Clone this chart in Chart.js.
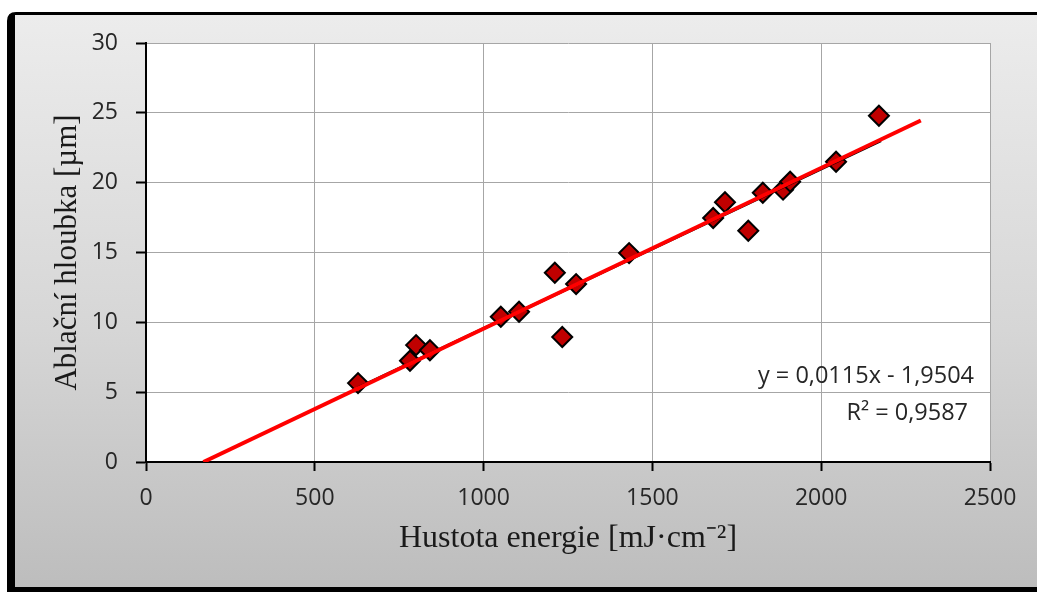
<!DOCTYPE html>
<html>
<head>
<meta charset="utf-8">
<script src="https://cdn.jsdelivr.net/npm/chart.js@4/dist/chart.umd.min.js"></script>
<style>
  html, body { margin: 0; padding: 0; background: #fff; overflow: hidden; }
  canvas { display: block; }
</style>
</head>
<body>
<canvas id="ablaceChart" width="1037" height="592"></canvas>
<script>
// naměřené body
const energie = [628, 782, 800, 841, 1051, 1105, 1211, 1233, 1274, 1431, 1680, 1715, 1784, 1827, 1887, 1908, 2044, 2171];
const hloubka = [5.65, 7.25, 8.37, 8.0, 10.4, 10.76, 13.55, 8.95, 12.74, 14.96, 17.47, 18.6, 16.56, 19.28, 19.5, 20.07, 21.5, 24.79];

// lineární trend (koncové body)
const trendX = [170, 2295];
const trendY = [0, 24.45];

// černá čára pod trendem
const fitX = [628, 2177];
const fitY = [5.3, 23.0];

const rovnice = 'y = 0,0115x - 1,9504';
const spolehlivost = 'R² = 0,9587';

const xTicks = [0, 500, 1000, 1500, 2000, 2500];
const yTicks = [0, 5, 10, 15, 20, 25, 30];

function toPoints(xs, ys) {
    return xs.map(function (x, i) { return { x: x, y: ys[i] }; });
}

// rámeček grafu + bílá plocha grafu
const chartFrame = {
    id: 'chartFrame',
    beforeDraw: function (chart) {
        const ctx = chart.ctx;
        const w = chart.width;
        const h = chart.height;
        const a = chart.chartArea;
        ctx.save();
        ctx.fillStyle = '#ffffff';
        ctx.fillRect(0, 0, w, h);

        // černý okraj (vlevo, nahoře, dole)
        ctx.fillStyle = '#000000';
        ctx.beginPath();
        ctx.moveTo(w, 12);
        ctx.lineTo(16, 12);
        ctx.quadraticCurveTo(7, 12, 7, 21);
        ctx.lineTo(7, h);
        ctx.lineTo(w, h);
        ctx.closePath();
        ctx.fill();

        const g = ctx.createLinearGradient(0, 15, 0, 587);
        g.addColorStop(0, '#ececec');
        g.addColorStop(0.55, '#d6d6d6');
        g.addColorStop(1, '#bdbdbd');
        ctx.fillStyle = g;
        ctx.fillRect(15, 15, w - 15, 572);

        ctx.fillStyle = '#ffffff';
        ctx.fillRect(a.left, a.top, a.right - a.left, a.bottom - a.top);
        ctx.restore();
    }
};

const trendLabel = {
    id: 'trendLabel',
    afterDraw: function (chart) {
        const a = chart.chartArea;
        const ctx = chart.ctx;
        ctx.save();
        ctx.font = '23.5px "Open Sans"';
        ctx.fillStyle = '#262626';
        ctx.textAlign = 'right';
        ctx.textBaseline = 'middle';
        ctx.fillText(rovnice, a.right - 16, 376);
        ctx.fillText(spolehlivost, a.right - 22, 413);
        ctx.restore();
    }
};

const canvas = document.getElementById('ablaceChart');

new Chart(canvas, {
    type: 'scatter',
    data: {
        datasets: [{
            label: 'trend',
            data: toPoints(trendX, trendY),
            showLine: true,
            borderColor: '#ff0000',
            borderWidth: 4,
            pointRadius: 0,
            order: 0
        }, {
            label: 'fit',
            data: toPoints(fitX, fitY),
            showLine: true,
            borderColor: '#000000',
            borderWidth: 3,
            pointRadius: 0,
            order: 1
        }, {
            label: 'Ablační hloubka',
            data: toPoints(energie, hloubka),
            pointStyle: 'rectRot',
            pointRadius: 10,
            pointBackgroundColor: '#c00000',
            pointBorderColor: '#000000',
            pointBorderWidth: 2,
            order: 2
        }]
    },
    options: {
        responsive: false,
        animation: false,
        events: [],
        layout: {
            padding: { left: 0, top: 43, right: 47, bottom: 0 }
        },
        plugins: {
            legend: { display: false },
            tooltip: { enabled: false }
        },
        scales: {
            x: {
                type: 'linear',
                min: 0,
                max: 2500,
                afterBuildTicks: function (scale) {
                    scale.ticks = xTicks.map(function (v) { return { value: v }; });
                },
                afterFit: function (scale) { scale.height = 130; },
                grid: {
                    color: '#a6a6a6',
                    lineWidth: 1,
                    tickLength: 9,
                    tickColor: '#000000',
                    tickWidth: 2
                },
                border: { color: '#000000', width: 2 },
                ticks: {
                    padding: 14,
                    color: '#262626',
                    font: { family: 'Open Sans', size: 23 },
                    callback: function (value) { return String(value); }
                },
                title: {
                    display: true,
                    text: 'Hustota energie [mJ·cm⁻²]',
                    color: '#1a1a1a',
                    padding: { top: 0, bottom: 34 },
                    font: { family: 'Liberation Serif', size: 32, lineHeight: 1.2 }
                }
            },
            y: {
                type: 'linear',
                min: 0,
                max: 30,
                afterBuildTicks: function (scale) {
                    scale.ticks = yTicks.map(function (v) { return { value: v }; });
                },
                afterFit: function (scale) { scale.width = 146; },
                grid: {
                    color: '#a6a6a6',
                    lineWidth: 1,
                    tickLength: 10,
                    tickColor: '#000000',
                    tickWidth: 2
                },
                border: { color: '#000000', width: 2 },
                ticks: {
                    padding: 18,
                    color: '#262626',
                    font: { family: 'Open Sans', size: 23 },
                    callback: function (value) { return String(value); }
                },
                title: {
                    display: true,
                    text: 'Ablační hloubka [µm]',
                    color: '#1a1a1a',
                    padding: { top: 49, bottom: 0 },
                    font: { family: 'Liberation Serif', size: 31, lineHeight: 1.2 }
                }
            }
        }
    },
    plugins: [chartFrame, trendLabel]
});
</script>
</body>
</html>
